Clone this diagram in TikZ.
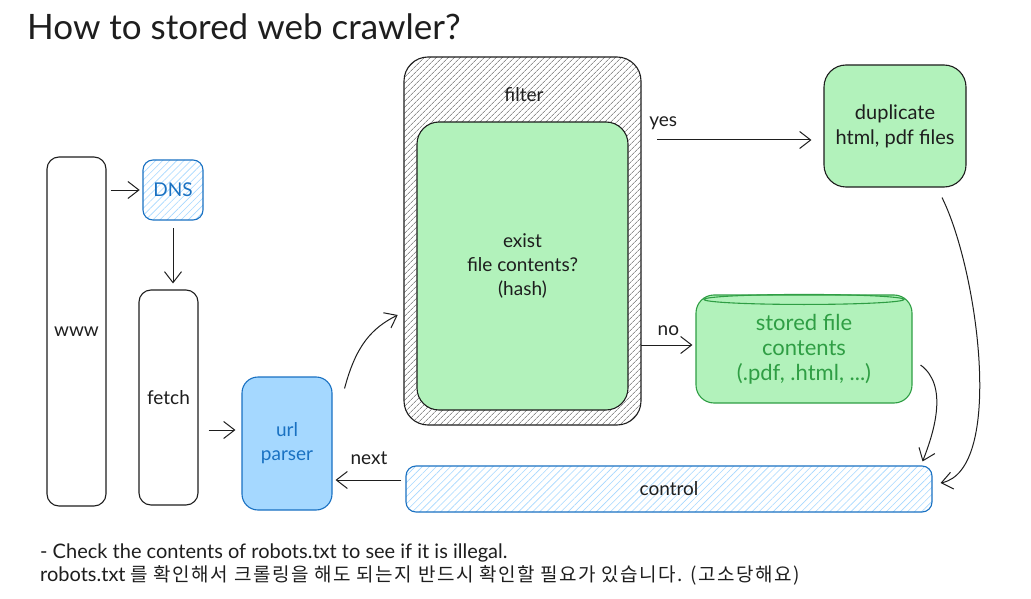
\documentclass[tikz,border=0pt]{standalone}
\usepackage{fontspec}
\setmainfont{Lato}
\newfontfamily\krfont[LetterSpace=8]{Noto Sans CJK KR}
\usepackage{tikz}
\usetikzlibrary{arrows.meta,calc,patterns.meta}
\definecolor{ink}{HTML}{1E1E1E}
\definecolor{blueline}{HTML}{1971C2}
\definecolor{bluefill}{HTML}{A5D8FF}
\definecolor{greenline}{HTML}{2F9E44}
\definecolor{greenfill}{HTML}{B2F2BB}
\tikzstyle{hit}=[-{Straight Barb[length=11pt,width=17pt]},line width=1pt,draw=ink,shorten >=3pt,shorten <=4pt]
\tikzstyle{box}=[draw=ink,line width=1.1pt,rounded corners=12pt,text=ink,align=center,inner sep=0pt,font=\fontsize{19}{24}\selectfont]
\tikzstyle{bluebox}=[box,draw=blueline,text=blueline]
\tikzstyle{bluehatch}=[pattern={Lines[angle=45,distance=5pt,line width=0.6pt]},pattern color=bluefill]
\tikzstyle{greyhatch}=[pattern={Lines[angle=45,distance=4pt,line width=0.6pt]},pattern color=ink!75]
\tikzstyle{lbl}=[text=ink,font=\fontsize{19}{24}\selectfont]

\begin{document}
\begin{tikzpicture}[x=1pt,y=-1pt]
\useasboundingbox (0,0) rectangle (1031,599);
\fill[white] (0,0) rectangle (1031,599);
\node[anchor=base west,text=ink,inner sep=0pt,font=\fontsize{35}{40}\selectfont] (title) at (27,40) {How to stored web crawler?};
% left column
\node[box,minimum width=59pt,minimum height=349pt] (www) at (76.5,331.5) {www};
\node[bluebox,bluehatch,rounded corners=10pt,minimum width=60pt,minimum height=60pt] (DNS) at (173,190) {DNS};
\node[box,minimum width=59pt,minimum height=215pt] (fetch) at (168.5,397.5) {fetch};
\node[bluebox,fill=bluefill,rounded corners=16pt,minimum width=90pt,minimum height=133pt] (parser) at (287,443.5) {url\\parser};
% filter
\node[box,greyhatch,rounded corners=24pt,minimum width=237pt,minimum height=368pt] (filter) at (522.5,241) {};
\node[lbl] (filterlbl) at (524,95) {filter};
\node[box,fill=greenfill,rounded corners=22pt,minimum width=211pt,minimum height=288pt] (hash) at (522.5,266) {exist\\file contents?\\(hash)};
% results
\node[box,fill=greenfill,rounded corners=22pt,minimum width=142pt,minimum height=122pt,font=\fontsize{20}{25}\selectfont] (dup) at (895,126) {duplicate\\html, pdf files};
\node[box,draw=greenline,text=greenline,fill=greenfill,rounded corners=18pt,minimum width=216pt,minimum height=108pt,font=\fontsize{22}{25}\selectfont] (store) at (804,349) {stored file\\contents\\(.pdf, .html, ...)};
\draw[greenline,line width=1.1pt] ($(store.north)+(0,5)$) ellipse (100 and 5);
\node[bluebox,bluehatch,text=ink,rounded corners=10pt,minimum width=526pt,minimum height=46pt] (control) at (669,489) {control};
% connectors
\draw[hit] (www.east |- DNS.west) -- (DNS.west);
\draw[hit,shorten <=8pt,shorten >=6pt] (DNS.south) -- (DNS.south |- fetch.north);
\draw[hit,shorten <=10pt,shorten >=6pt] ($(fetch.east)+(0,32.5)$) -- ($(parser.west)+(0,-13.5)$);
\draw[hit,shorten <=0pt,shorten >=0pt] ($(parser.north east)+(12,12)$) .. controls (356,345) and (372,328) .. ($(filter.west)+(-6,74)$);
\draw[hit,shorten <=16pt,shorten >=12pt] ($(filter.east)+(0,-101)$) -- ($(dup.west)+(0,14)$) node[lbl,pos=0.12,above=6pt] (yes) {yes};
\draw[hit,shorten <=0pt] ($(filter.east)+(0,104)$) -- ($(store.west)+(0,-4)$) node[lbl,midway,above=6pt] (no) {no};
\draw[hit,shorten <=0pt,shorten >=0pt] ($(store.east)+(8,16)$) .. controls (948,385) and (935,430) .. ($(control.north east)+(-10,-4)$);
\draw[hit,shorten <=0pt,shorten >=0pt] ($(dup.south)+(47,10)$) .. controls (978,270) and (1005,470) .. ($(control.east)+(8,-6)$);
\draw[hit,shorten <=4pt] ($(control.west)+(0,-9)$) -- ($(parser.east)+(0,36.5)$) node[lbl,midway,above=12pt] (next) {next};
% note
\node[anchor=base west,text=ink,inner sep=0pt,font=\fontsize{20}{24}\selectfont] (note1) at (40,558) {- Check the contents of robots.txt to see if it is illegal.};
\node[anchor=base west,text=ink,inner sep=0pt,font=\fontsize{20}{24}\selectfont] (note2) at (40,581) {robots.txt {\krfont\fontsize{19}{24}\selectfont 를 확인해서 크롤링을 해도 되는지 반드시 확인할 필요가 있습니다. (고소당해요)}};
\end{tikzpicture}
\end{document}
